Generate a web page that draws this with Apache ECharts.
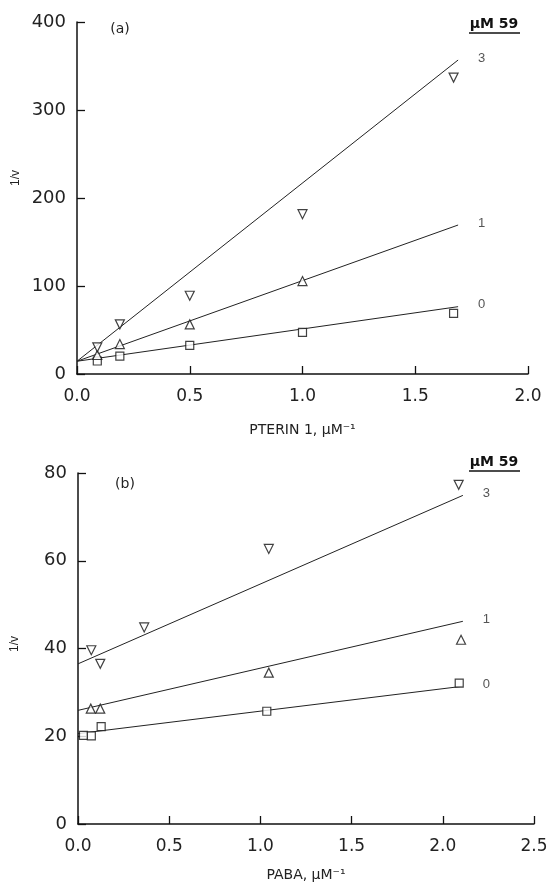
<!DOCTYPE html>
<html>
<head>
<meta charset="utf-8">
<script src="https://cdn.jsdelivr.net/npm/echarts@6/dist/echarts.min.js"></script>
<style>
html,body{margin:0;padding:0;background:#fff;}
#chart{width:552px;height:887px;}
</style>
</head>
<body>
<div id="chart"></div>
<script>
// ---- Panel (a): PTERIN 1 ----
const topX0 = [0.09, 0.19, 0.5, 1.0, 1.67];
const top0  = [14.8, 20.4, 32.6, 47.3, 68.9];
const topX1 = [0.09, 0.19, 0.5, 1.0];
const top1  = [21.6, 34.0, 56.4, 105.6];
const topX3 = [0.09, 0.19, 0.5, 1.0, 1.67];
const top3  = [30.3, 56.4, 88.9, 181.6, 336.8];
const topFitX = [0, 1.69];
const topFit0 = [14.5, 76.5];
const topFit1 = [14.5, 169.3];
const topFit3 = [14.5, 356.8];

// ---- Panel (b): PABA ----
const botX0 = [0.03, 0.073, 0.127, 1.035, 2.09];
const bot0  = [20.2, 20.1, 22.2, 25.7, 32.1];
const botX1 = [0.07, 0.122, 1.046, 2.1];
const bot1  = [26.3, 26.3, 34.5, 42.0];
const botX3 = [0.073, 0.122, 0.363, 1.046, 2.087];
const bot3  = [39.6, 36.5, 44.8, 62.7, 77.3];
const botFitX = [0, 2.11];
const botFit0 = [20.6, 31.4];
const botFit1 = [25.9, 46.2];
const botFit3 = [36.5, 74.9];

const curveLabels = ['0', '1', '3'];
const legendTitle = 'μM 59';
const topXName = 'PTERIN 1, μM⁻¹';
const botXName = 'PABA, μM⁻¹';
const yName = '1/v';

const zip = (xs, ys) => xs.map((x, i) => [x, ys[i]]);

const FONT = 'DejaVu Sans';
const axisLine = {show: true, lineStyle: {color: '#111', width: 1.5}};
const axisTick = {show: true, inside: true, length: 8, lineStyle: {color: '#111', width: 1.3}};

function xAxis(gi, max, name, gap) {
  return {
    type: 'value', gridIndex: gi, min: 0, max: max, interval: 0.5,
    axisLine, axisTick, splitLine: {show: false},
    axisLabel: {margin: 14, fontFamily: FONT, fontSize: 17, color: '#222',
      formatter: v => v.toFixed(1), showMinLabel: true, showMaxLabel: true},
    name: name, nameLocation: 'middle', nameGap: gap,
    nameTextStyle: {fontFamily: FONT, fontSize: 14, color: '#222'}
  };
}
function yAxis(gi, max, interval) {
  return {
    type: 'value', gridIndex: gi, min: 0, max: max, interval: interval,
    axisLine, axisTick, splitLine: {show: false},
    axisLabel: {margin: 11, fontFamily: FONT, fontSize: 18, color: '#222',
      showMinLabel: true, showMaxLabel: true}
  };
}

function fitLine(gi, xs, ys, label) {
  return {
    type: 'line', xAxisIndex: gi, yAxisIndex: gi, data: zip(xs, ys),
    symbol: 'none', silent: true, z: 2,
    lineStyle: {color: '#222', width: 1},
    endLabel: {show: true, formatter: label, distance: 20, offset: [0, -2],
      fontFamily: 'Liberation Sans', fontSize: 13, color: '#555'}
  };
}
function pts(gi, xs, ys, sym, rot) {
  return {
    type: 'scatter', xAxisIndex: gi, yAxisIndex: gi, data: zip(xs, ys),
    symbol: sym, symbolSize: sym === 'rect' ? 8 : 9, symbolRotate: rot || 0, z: 5,
    itemStyle: {color: '#fff', borderColor: '#111', borderWidth: 1.2}
  };
}

const chart = echarts.init(document.getElementById('chart'), null, {renderer: 'canvas'});
chart.setOption({
  animation: false,
  backgroundColor: '#fff',
  grid: [
    {left: 77, top: 22, width: 451, height: 352},
    {left: 78, top: 473, width: 456, height: 351}
  ],
  xAxis: [xAxis(0, 2, topXName, 49), xAxis(1, 2.5, botXName, 44)],
  yAxis: [yAxis(0, 400, 100), yAxis(1, 80, 20)],
  series: [
    fitLine(0, topFitX, topFit0, curveLabels[0]),
    fitLine(0, topFitX, topFit1, curveLabels[1]),
    fitLine(0, topFitX, topFit3, curveLabels[2]),
    pts(0, topX0, top0, 'rect'),
    pts(0, topX1, top1, 'triangle'),
    pts(0, topX3, top3, 'triangle', 180),
    fitLine(1, botFitX, botFit0, curveLabels[0]),
    fitLine(1, botFitX, botFit1, curveLabels[1]),
    fitLine(1, botFitX, botFit3, curveLabels[2]),
    pts(1, botX0, bot0, 'rect'),
    pts(1, botX1, bot1, 'triangle'),
    pts(1, botX3, bot3, 'triangle', 180)
  ],
  graphic: [
    {type: 'text', x: 120, y: 29, style: {text: '(a)', font: '14px "DejaVu Sans"', fill: '#222', align: 'center', verticalAlign: 'middle'}},
    {type: 'text', x: 125, y: 484, style: {text: '(b)', font: '14px "DejaVu Sans"', fill: '#222', align: 'center', verticalAlign: 'middle'}},
    {type: 'text', x: 494, y: 24, style: {text: legendTitle, font: 'bold 14px "DejaVu Sans"', fill: '#111', align: 'center', verticalAlign: 'middle'}},
    {type: 'line', shape: {x1: 469, y1: 33, x2: 520, y2: 33}, style: {stroke: '#111', lineWidth: 1.5}},
    {type: 'text', x: 494, y: 462, style: {text: legendTitle, font: 'bold 14px "DejaVu Sans"', fill: '#111', align: 'center', verticalAlign: 'middle'}},
    {type: 'line', shape: {x1: 469, y1: 471, x2: 520, y2: 471}, style: {stroke: '#111', lineWidth: 1.5}},
    {type: 'text', x: 16, y: 178, rotation: Math.PI / 2, style: {text: yName, font: '12px "Liberation Sans"', fill: '#222', align: 'center', verticalAlign: 'middle'}},
    {type: 'text', x: 15, y: 644, rotation: Math.PI / 2, style: {text: yName, font: '12px "Liberation Sans"', fill: '#222', align: 'center', verticalAlign: 'middle'}}
  ]
});
</script>
</body>
</html>
